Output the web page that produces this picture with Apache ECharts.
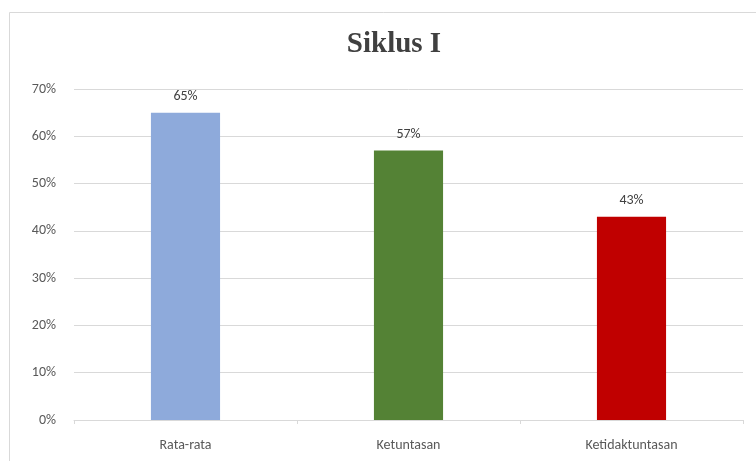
<!DOCTYPE html>
<html><head><meta charset="utf-8">
<script src="https://cdn.jsdelivr.net/npm/echarts@6/dist/echarts.min.js"></script>
<style>html,body{margin:0;padding:0;background:#fff}#c{width:756px;height:461px}</style>
</head><body><div id="c"></div>
<script>
const categories = ['Rata-rata', 'Ketuntasan', 'Ketidaktuntasan'];
const values = [65, 57, 43];
const colors = ['#8eaadb', '#548235', '#c00000'];
const yTicks = [0, 10, 20, 30, 40, 50, 60, 70];
const titleText = 'Siklus I';

const chart = echarts.init(document.getElementById('c'), null, {renderer: 'canvas'});
chart.setOption({
  animation: false,
  backgroundColor: '#fff',
  graphic: [{
    type: 'rect', shape: {x: 9.5, y: 12.5, width: 760, height: 460},
    style: {fill: 'none', stroke: '#d9d9d9', lineWidth: 1}, silent: true
  }],
  title: {
    text: titleText, left: 389, top: 25, textAlign: 'center',
    textStyle: {fontFamily: 'Liberation Serif', fontWeight: 'bold', fontSize: 29, color: '#404040'}
  },
  grid: {left: 74, right: 13, top: 89, bottom: 41, containLabel: false},
  xAxis: {
    type: 'category', data: categories,
    axisLine: {lineStyle: {color: '#d9d9d9'}},
    axisTick: {show: true, alignWithLabel: false, length: 4, lineStyle: {color: '#d9d9d9'}},
    axisLabel: {color: '#595959', fontFamily: 'Calibri, Carlito, Liberation Sans', fontSize: 14, margin: 18}
  },
  yAxis: {
    type: 'value', min: yTicks[0], max: yTicks[yTicks.length - 1], interval: 10,
    axisLine: {show: false}, axisTick: {show: false},
    splitLine: {lineStyle: {color: '#d9d9d9'}},
    axisLabel: {color: '#595959', fontFamily: 'Calibri, Carlito, Liberation Sans', fontSize: 14, margin: 18,
      formatter: v => v + '%'}
  },
  series: [{
    type: 'bar', barWidth: '31%',
    data: values.map((v, i) => ({value: v, itemStyle: {color: colors[i]}})),
    label: {show: true, position: 'top', distance: 9, color: '#404040', fontSize: 14,
      fontFamily: 'Calibri, Carlito, Liberation Sans', formatter: p => p.value + '%'}
  }]
});
</script></body></html>
